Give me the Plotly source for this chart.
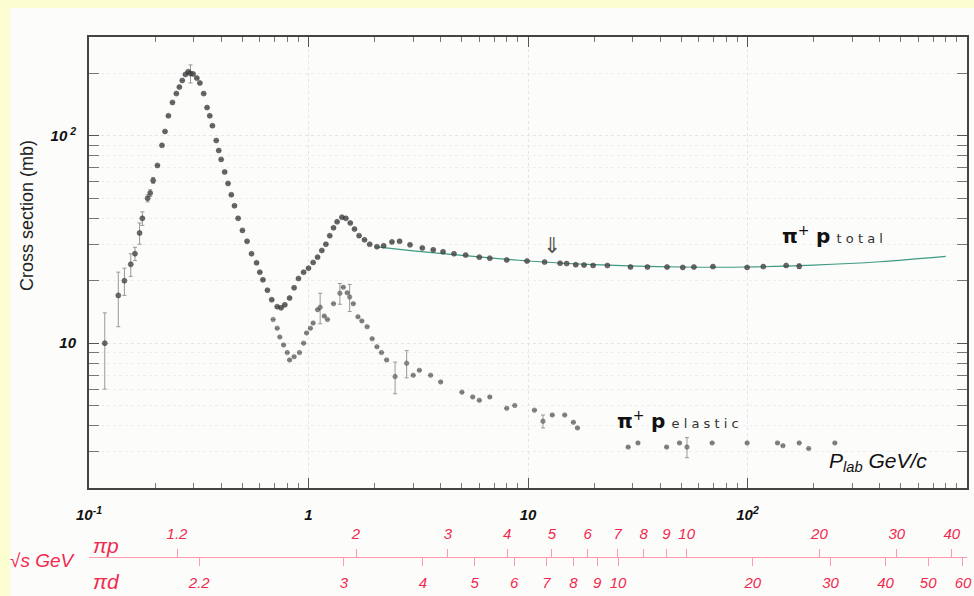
import math
import plotly.graph_objects as go

# ---------------- data ----------------
tot_p = [0.118, 0.136, 0.145, 0.155, 0.162, 0.170, 0.175, 0.185, 0.190, 0.196,
         0.205, 0.215, 0.222, 0.230, 0.240, 0.250, 0.258, 0.266, 0.275, 0.283,
         0.290, 0.298, 0.310, 0.320, 0.333, 0.345, 0.355, 0.365, 0.380, 0.390,
         0.400, 0.415, 0.430, 0.445, 0.460, 0.478, 0.500, 0.525, 0.550, 0.580,
         0.600, 0.620, 0.650, 0.680, 0.720, 0.750, 0.780, 0.820, 0.860, 0.900,
         0.950, 1.00, 1.05, 1.10, 1.15, 1.20, 1.25, 1.30, 1.35, 1.42,
         1.48, 1.55, 1.62, 1.70, 1.80, 1.90, 2.05, 2.20, 2.40, 2.60,
         2.90, 3.30, 3.70, 4.10, 4.60, 5.20, 6.00, 6.70, 8.00, 9.90,
         11.9, 14.0, 15.0, 16.5, 18.0, 19.8, 23.0, 29.3, 35.0, 43.0,
         50.7, 57.0, 69.6, 99.6, 118, 150, 172]
tot_s = [10.0, 17.0, 20.0, 24.0, 27.0, 34.0, 40.0, 50.0, 53.0, 61.0,
         72.0, 90.0, 105, 125, 145, 160, 172, 185, 198, 204,
         200, 199, 190, 180, 160, 137, 125, 112, 95.0, 85.0,
         77.0, 67.0, 59.0, 52.0, 46.0, 40.0, 35.0, 31.0, 27.0, 24.4,
         22.0, 20.2, 18.0, 16.2, 15.0, 14.8, 15.3, 16.5, 18.5, 20.5,
         22.0, 23.0, 24.5, 26.0, 28.0, 30.0, 33.0, 36.0, 38.5, 40.5,
         40.0, 38.0, 35.5, 33.0, 31.5, 30.0, 29.2, 29.5, 30.8, 31.0,
         29.8, 28.8, 28.2, 27.6, 27.0, 26.6, 26.0, 25.7, 25.2, 24.9,
         24.6, 24.3, 24.2, 23.9, 23.8, 23.7, 23.7, 23.3, 23.3, 23.3,
         23.2, 23.3, 23.4, 23.2, 23.4, 23.7, 23.5]
tot_err = [4.0, 5.0, 3.0, 3.0, 2.0, 4.0, 3.0, 2.0, 2.0, 2.0,
           0, 0, 0, 0, 0, 0, 0, 0, 0, 0,
           20, 0, 0, 0, 0, 0, 0, 0, 0, 0,
           0, 0, 0, 0, 0, 0, 0, 0, 0, 0,
           0, 0, 0, 0, 0, 0, 0, 0, 0, 0,
           0, 0, 0, 0, 0, 0, 0, 0, 0, 0,
           0, 0, 0, 0, 0, 0, 0, 0, 0, 0,
           0, 0, 0, 0, 0, 0, 0, 0, 0, 0,
           0, 0, 0, 0, 0, 0, 0, 0, 0, 0,
           0, 0, 0, 0, 0, 0, 0.6]

fit_p = [2.0, 3.0, 5.0, 10.0, 20.0, 50.0, 100, 200, 400, 800]
fit_s = [29.2, 27.9, 26.5, 24.9, 23.9, 23.3, 23.3, 23.8, 24.7, 26.2]

el_p = [0.69, 0.72, 0.74, 0.77, 0.80, 0.82, 0.86, 0.91, 0.95, 0.98,
        1.02, 1.05, 1.10, 1.13, 1.18, 1.22, 1.30, 1.39, 1.44, 1.50,
        1.54, 1.60, 1.68, 1.75, 1.85, 1.95, 2.05, 2.15, 2.27, 2.48,
        2.80, 3.00, 3.20, 3.60, 4.00, 5.00, 5.60, 6.00, 6.70, 8.00,
        8.70, 10.7, 11.7, 12.9, 14.7, 16.1, 16.8, 28.6, 31.7, 42.8,
        49.0, 53.0, 69.0, 99.6, 137, 145, 172, 190, 250]
el_s = [13.0, 11.8, 10.7, 9.8, 9.0, 8.3, 8.6, 9.0, 10.0, 11.2,
        11.8, 12.5, 14.5, 14.9, 13.5, 13.0, 15.5, 17.4, 18.6, 17.5,
        16.7, 15.5, 13.4, 12.8, 12.0, 10.5, 9.6, 9.0, 8.3, 6.9,
        8.0, 7.0, 7.4, 7.0, 6.5, 5.8, 5.5, 5.3, 5.5, 4.85,
        5.0, 4.75, 4.2, 4.5, 4.5, 4.15, 3.9, 3.15, 3.3, 3.15,
        3.3, 3.15, 3.3, 3.3, 3.3, 3.2, 3.3, 3.1, 3.3]
el_err = [0, 0, 0, 0, 0, 0, 0, 0, 0, 0,
          0, 0, 0, 2.5, 0, 0, 0, 2.0, 0, 0,
          2.5, 0, 0, 0, 0, 0, 0, 0, 0, 1.2,
          1.2, 0, 0, 0, 0, 0, 0, 0, 0, 0,
          0, 0, 0.3, 0, 0, 0, 0, 0, 0, 0,
          0, 0.35, 0, 0, 0, 0, 0, 0, 0]

x_major = [0.1, 1, 10, 100]
x_major_text = ["10<sup>-1</sup>", "1", "10", "10<sup>2</sup>"]
y_major = [10, 100]
y_major_text = ["10", "10<sup> 2</sup>"]

sqrt_s_pip = [1.2, 2, 3, 4, 5, 6, 7, 8, 9, 10, 20, 30, 40]
sqrt_s_pid = [2.2, 3, 4, 5, 6, 7, 8, 9, 10, 20, 30, 40, 50, 60]

M_PI = 0.13957
M_P = 0.93827
M_D = 1.87561


def plab_from_sqrt_s(rs, m_target):
    s = rs * rs
    e = (s - M_PI ** 2 - m_target ** 2) / (2 * m_target)
    return math.sqrt(max(e * e - M_PI ** 2, 1e-12))


pip_vals = [plab_from_sqrt_s(v, M_P) for v in sqrt_s_pip]
pid_vals = [plab_from_sqrt_s(v, M_D) for v in sqrt_s_pid]

x_minor = [k * 10 ** n for n in range(-1, 3) for k in range(2, 10)]
y_minor = [k * 10 ** n for n in range(0, 3) for k in range(2, 10) if 2 <= k * 10 ** n <= 300]

# ---------------- geometry ----------------
W, H = 974, 596
ML, MR, MT, MB = 89, 7, 37, 0
PW, PH = W - ML - MR, H - MT - MB


def px(xp):
    return (xp - ML) / PW


def py(yp):
    return (H - yp) / PH


RED = "#f2294f"
PINK = "#ff9aac"
SANS = "Liberation Sans, Arial, sans-serif"

fig = go.Figure()

fig.add_trace(go.Scatter(
    x=fit_p, y=fit_s, mode="lines", line=dict(color="#3f9a82", width=1.2, shape="spline"),
    hoverinfo="skip", showlegend=False))

fig.add_trace(go.Scatter(
    x=tot_p, y=tot_s, mode="markers",
    marker=dict(size=5, color="#4a4a4a", opacity=0.8, line=dict(width=0.6, color="#222")),
    error_y=dict(type="data", array=tot_err, color="#999", thickness=1, width=2),
    showlegend=False, name="total"))

fig.add_trace(go.Scatter(
    x=el_p, y=el_s, mode="markers",
    marker=dict(size=4.5, color="#6a6a6a", opacity=0.75, line=dict(width=0.5, color="#333")),
    error_y=dict(type="data", array=el_err, color="#999", thickness=1, width=2),
    showlegend=False, name="elastic"))

# dummy traces so that the √s axes are drawn
fig.add_trace(go.Scatter(x=[1], y=[None], xaxis="x2", yaxis="y", mode="markers",
                         showlegend=False, hoverinfo="skip"))
fig.add_trace(go.Scatter(x=[1], y=[None], xaxis="x3", yaxis="y", mode="markers",
                         showlegend=False, hoverinfo="skip"))

ydom0 = py(488)

fig.update_layout(
    width=W, height=H,
    margin=dict(l=ML, r=MR, t=MT, b=MB, pad=0),
    paper_bgcolor="#fdfdd2",
    plot_bgcolor="white",
    showlegend=False,
    xaxis=dict(
        type="log", range=[-1, 3], domain=[0, 1], anchor="y",
        showline=True, linecolor="#444", linewidth=2, mirror="allticks",
        ticks="inside", ticklen=10, tickcolor="#555", tickwidth=1,
        tickvals=x_major, ticktext=x_major_text,
        tickfont=dict(family=SANS, size=15, color="#111", weight="bold", style="italic"),
        ticklabelstandoff=12,
        showgrid=True, gridcolor="#e4e4e4", griddash="dot",
        minor=dict(tickvals=x_minor, ticks="inside", ticklen=5, tickcolor="#777",
                   showgrid=False),
        zeroline=False,
    ),
    yaxis=dict(
        type="log", range=[math.log10(2), math.log10(300)], domain=[ydom0, 1], anchor="x",
        showline=True, linecolor="#444", linewidth=2, mirror="allticks",
        ticks="inside", ticklen=10, tickcolor="#555", tickwidth=1,
        tickvals=y_major, ticktext=y_major_text,
        tickfont=dict(family=SANS, size=15, color="#111", weight="bold", style="italic"),
        ticklabelstandoff=8,
        showgrid=True, gridcolor="#e4e4e4", griddash="dot",
        minor=dict(tickvals=y_minor, ticks="inside", ticklen=5, tickcolor="#777",
                   showgrid=True, gridcolor="#eeeeee", griddash="dot"),
        zeroline=False,
    ),
    xaxis2=dict(
        type="log", range=[-1, 3], overlaying="x", anchor="free", position=py(557),
        side="top", showline=True, linecolor=PINK, linewidth=1,
        ticks="outside", ticklen=8, tickcolor=PINK, tickwidth=1,
        tickvals=pip_vals, ticktext=[str(v) for v in sqrt_s_pip],
        tickfont=dict(family=SANS, size=15, color=RED, style="italic"),
        ticklabelstandoff=4, showgrid=False, zeroline=False,
    ),
    xaxis3=dict(
        type="log", range=[-1, 3], overlaying="x", anchor="free", position=py(557),
        side="bottom", showline=False,
        ticks="outside", ticklen=8, tickcolor=PINK, tickwidth=1,
        tickvals=pid_vals, ticktext=[str(v) for v in sqrt_s_pid],
        tickfont=dict(family=SANS, size=15, color=RED, style="italic"),
        ticklabelstandoff=4, showgrid=False, zeroline=False,
    ),
)

# white page area leaving the yellow strips at the left and top
fig.add_shape(type="rect", xref="paper", yref="paper",
              x0=px(10), x1=px(W + 5), y0=py(H + 5), y1=py(8),
              fillcolor="#fcfcfa", line=dict(width=0), layer="below")

ann = []
ann.append(dict(x=px(27), y=py(216), xref="paper", yref="paper", text="Cross section (mb)",
                textangle=-90, showarrow=False, xanchor="center", yanchor="middle",
                font=dict(family="Liberation Sans, Arial, sans-serif", size=18, color="#222")))
ann.append(dict(x=math.log10(141), y=math.log10(33.3), xref="x", yref="y",
                xanchor="left", yanchor="middle",
                text="<b>π</b><sup>+</sup> <b>p</b> <span style='font-size:13px;color:#333'>t o t a l</span>",
                showarrow=False, font=dict(family="DejaVu Sans", size=20, color="#111")))
ann.append(dict(x=(615 - 89) / 219.5 - 1, y=1 + (343 - 420) / 207, xref="x", yref="y",
                xanchor="left", yanchor="middle",
                text="<b>π</b><sup>+</sup> <b>p</b> <span style='font-size:13px;color:#333'>e l a s t i c</span>",
                showarrow=False, font=dict(family="DejaVu Sans", size=20, color="#111")))
ann.append(dict(x=(827 - 89) / 219.5 - 1, y=1 + (343 - 462) / 207, xref="x", yref="y",
                xanchor="left", yanchor="middle",
                text="<i>P<sub>lab</sub> GeV/c</i>",
                showarrow=False, font=dict(family=SANS, size=21, color="#111")))
ann.append(dict(x=(552 - 89) / 219.5 - 1, y=1 + (343 - 245) / 207, xref="x", yref="y",
                xanchor="center", yanchor="middle",
                text="⇓", showarrow=False, font=dict(family="DejaVu Sans", size=22, color="#555")))
ann.append(dict(x=px(91), y=py(545), xref="paper", yref="paper", xanchor="left", yanchor="middle",
                text="<i>πp</i>", showarrow=False, font=dict(family=SANS, size=21, color=RED)))
ann.append(dict(x=px(91), y=py(581), xref="paper", yref="paper", xanchor="left", yanchor="middle",
                text="<i>πd</i>", showarrow=False, font=dict(family=SANS, size=21, color=RED)))
ann.append(dict(x=px(78), y=py(560), xref="paper", yref="paper", xanchor="right", yanchor="middle",
                text="<i>√s GeV</i>", showarrow=False, font=dict(family=SANS, size=19, color=RED)))
fig.update_layout(annotations=ann)

fig.write_html("out.html", config={"displayModeBar": False},
               post_script="document.body.style.margin='0px';")
